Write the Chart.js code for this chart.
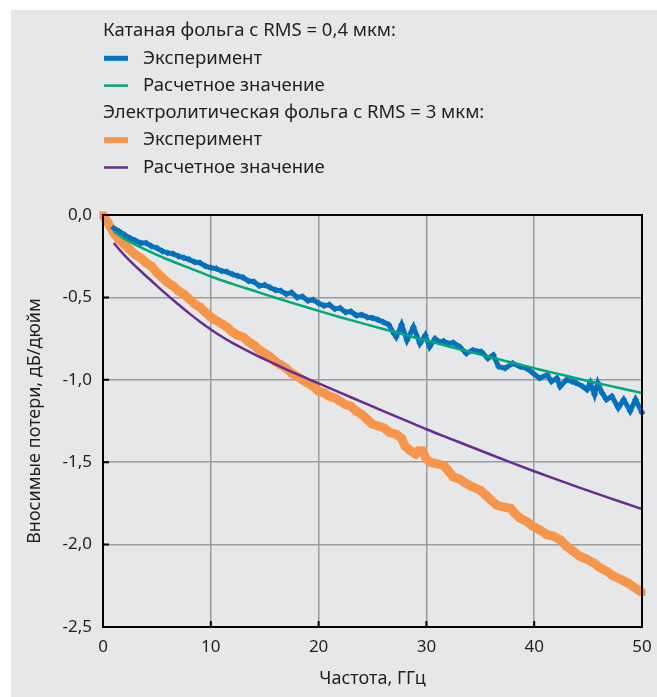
<!DOCTYPE html>
<html>
<head>
<meta charset="utf-8">
<script src="https://cdn.jsdelivr.net/npm/chart.js@4/dist/chart.umd.min.js"></script>
<style>
  html, body { margin: 0; padding: 0; background: #fff; }
  #wrap { width: 657px; height: 697px; }
</style>
</head>
<body>
<div id="wrap"><canvas id="c" width="657" height="697"></canvas></div>
<script>
// legend groups
const groupTitles = ['Катаная фольга с RMS = 0,4 мкм:', 'Электролитическая фольга с RMS = 3 мкм:'];
const seriesLabels = ['Эксперимент', 'Расчетное значение'];

// axis ticks
const xTicks = [0, 10, 20, 30, 40, 50];
const yTicks = [0, -0.5, -1, -1.5, -2, -2.5];

// rolled foil, measured
const rolledExpX = [1, 1.5, 2, 2.5, 3, 3.5, 4, 4.5, 5, 5.5, 6, 6.5, 7, 7.5, 8, 8.5, 9, 9.5, 10, 10.5,
  11, 11.5, 12, 12.5, 13, 13.5, 14, 14.5, 15, 15.5, 16, 16.5, 17, 17.5, 18, 18.5, 19, 19.5, 20, 20.5,
  21, 21.5, 22, 22.5, 23, 23.5, 24, 24.5, 25, 25.5, 26, 26.5, 27, 27.2, 27.7, 28.2, 28.8, 29.4, 29.9, 30.3,
  30.8, 31.2, 31.6, 32, 32.5, 33.1, 33.7, 34.3, 35.1, 35.7, 36.2, 36.7, 37.3, 38, 38.7, 39.3, 39.9, 40.5,
  41.2, 41.6, 42.1, 42.4, 43, 43.5, 43.9, 44.5, 44.9, 45.2, 45.6, 45.9, 46.3, 46.7, 47.2, 47.8, 48.3, 48.9,
  49.4, 50];
const rolledExpY = [-0.08, -0.10, -0.12, -0.14, -0.155, -0.17, -0.17, -0.19, -0.20, -0.22, -0.23, -0.235, -0.25, -0.26, -0.27, -0.285, -0.29, -0.31, -0.32, -0.325,
  -0.34, -0.345, -0.36, -0.37, -0.38, -0.40, -0.405, -0.43, -0.425, -0.44, -0.455, -0.46, -0.48, -0.47, -0.50, -0.495, -0.52, -0.515, -0.535, -0.55,
  -0.545, -0.57, -0.565, -0.59, -0.585, -0.61, -0.605, -0.62, -0.625, -0.635, -0.65, -0.665, -0.72, -0.74, -0.665, -0.76, -0.68, -0.78, -0.73, -0.80,
  -0.75, -0.77, -0.765, -0.78, -0.775, -0.80, -0.84, -0.82, -0.83, -0.87, -0.85, -0.92, -0.93, -0.90, -0.92, -0.93, -0.96, -0.99,
  -0.97, -1.01, -0.99, -1.04, -1.00, -1.01, -1.02, -1.04, -1.06, -1.02, -1.09, -1.02, -1.08, -1.12, -1.10, -1.17, -1.12, -1.19,
  -1.12, -1.20];

// rolled foil, calculated
const rolledCalcX = [1, 2, 3, 4, 5, 6, 7, 8, 10, 12, 14, 16, 18, 20, 22, 24, 26, 28, 30, 32, 34, 36, 38, 40, 42, 44, 46, 48, 50];
const rolledCalcY = [-0.10, -0.145, -0.18, -0.212, -0.242, -0.27, -0.296, -0.321, -0.373, -0.418, -0.46, -0.502, -0.542, -0.582, -0.62, -0.656, -0.692, -0.727, -0.762, -0.796, -0.83, -0.864, -0.897, -0.93, -0.961, -0.992, -1.022, -1.051, -1.08];

// electrolytic foil, measured
const edExpX = [0, 0.5, 1, 1.5, 2, 2.5, 3, 3.5, 4, 4.5, 5, 5.5, 6, 6.5, 7, 7.5, 8, 8.5, 9, 9.5,
  10, 10.5, 11, 11.5, 12, 12.5, 13, 13.5, 14, 14.5, 15, 15.5, 16, 16.5, 17, 17.5, 18, 18.5, 19, 19.5,
  20, 20.5, 21, 21.5, 22, 22.5, 23, 23.5, 24, 24.5, 25, 25.5, 26, 26.6, 27.2, 27.7, 28, 28.5, 29, 29.3,
  29.6, 30, 30.3, 31, 31.6, 32, 32.5, 33, 33.7, 34.3, 35, 35.5, 36, 36.5, 37, 37.8, 38.2, 38.7, 39.3, 39.9,
  40.5, 41.2, 41.8, 42.4, 43, 43.6, 44.2, 44.9, 45.5, 46.1, 46.7, 47.3, 48, 48.6, 49.3, 50];
const edExpY = [0, -0.05, -0.11, -0.15, -0.18, -0.21, -0.24, -0.26, -0.29, -0.31, -0.35, -0.38, -0.41, -0.43, -0.46, -0.48, -0.51, -0.54, -0.56, -0.59,
  -0.62, -0.64, -0.66, -0.68, -0.71, -0.73, -0.74, -0.77, -0.79, -0.82, -0.84, -0.86, -0.89, -0.91, -0.93, -0.96, -0.98, -1.00, -1.02, -1.04,
  -1.07, -1.08, -1.10, -1.11, -1.13, -1.15, -1.16, -1.19, -1.21, -1.24, -1.27, -1.28, -1.29, -1.32, -1.33, -1.355, -1.40, -1.43, -1.45, -1.43,
  -1.43, -1.48, -1.50, -1.51, -1.52, -1.55, -1.59, -1.60, -1.63, -1.65, -1.67, -1.70, -1.73, -1.76, -1.77, -1.78, -1.81, -1.84, -1.86, -1.89,
  -1.91, -1.94, -1.95, -1.97, -2.01, -2.04, -2.07, -2.09, -2.11, -2.14, -2.16, -2.19, -2.21, -2.23, -2.26, -2.29];

// electrolytic foil, calculated
const edCalcX = [1, 2, 3, 4, 5, 6, 7, 8, 9, 10, 11, 12, 14, 16, 18, 20, 22, 24, 26, 28, 30, 32, 34, 36, 38, 40, 42, 44, 46, 48, 50];
const edCalcY = [-0.17, -0.245, -0.31, -0.37, -0.43, -0.488, -0.543, -0.597, -0.648, -0.695, -0.737, -0.776, -0.844, -0.906, -0.966, -1.022, -1.078, -1.134, -1.19, -1.245, -1.30, -1.352, -1.403, -1.455, -1.506, -1.555, -1.603, -1.65, -1.695, -1.74, -1.784];

const pts = (xs, ys) => xs.map((x, i) => ({ x: x, y: ys[i] }));
const fmt = v => v.toFixed(1).replace('.', ',');

const FONT = 'Noto Sans';
const TEXT = '#231f20';

const panelBg = {
  id: 'panelBg',
  beforeDraw(chart) {
    const c = chart.ctx;
    c.save();
    c.fillStyle = '#e6e7e8';
    c.fillRect(11, 10, chart.width - 11, chart.height - 10);
    c.restore();
  }
};

const frame = {
  id: 'frame',
  afterDatasetsDraw(chart) {
    const c = chart.ctx, a = chart.chartArea;
    const xs = chart.scales.x, ys = chart.scales.y;
    c.save();
    c.strokeStyle = '#000';
    c.lineWidth = 2;
    c.strokeRect(a.left, a.top, a.right - a.left, a.bottom - a.top);
    c.beginPath();
    yTicks.forEach(v => {
      const py = ys.getPixelForValue(v);
      c.moveTo(a.left, py); c.lineTo(a.left + 6, py);
    });
    xTicks.forEach(v => {
      const px = xs.getPixelForValue(v);
      c.moveTo(px, a.bottom); c.lineTo(px, a.bottom - 6);
    });
    c.stroke();
    c.restore();
  }
};

const groupLegend = {
  id: 'groupLegend',
  afterDraw(chart) {
    const c = chart.ctx;
    const ds = chart.data.datasets;
    const rows = [
      { head: groupTitles[0] }, { set: ds[0] }, { set: ds[1] },
      { head: groupTitles[1] }, { set: ds[2] }, { set: ds[3] }
    ];
    c.save();
    c.font = '18.5px "' + FONT + '"';
    c.fillStyle = TEXT;
    c.textBaseline = 'middle';
    rows.forEach((r, i) => {
      const y = 31 + i * 27.3;
      if (r.head) {
        c.fillText(r.head, 103, y);
      } else {
        c.strokeStyle = r.set.borderColor;
        c.lineWidth = r.set.legendWidth;
        c.beginPath();
        c.moveTo(104, y); c.lineTo(128, y);
        c.stroke();
        c.fillText(r.set.label, 143, y);
      }
    });
    c.restore();
  }
};

new Chart(document.getElementById('c'), {
  type: 'line',
  data: {
    datasets: [
      {
        label: seriesLabels[0], data: pts(rolledExpX, rolledExpY),
        borderColor: '#0071bc', backgroundColor: '#0071bc',
        borderWidth: 5, pointStyle: 'rectRot', pointRadius: 3.5, pointBorderWidth: 0,
        tension: 0, order: 2, clip: false, legendWidth: 5
      },
      {
        label: seriesLabels[1], data: pts(rolledCalcX, rolledCalcY),
        borderColor: '#00a77a', borderWidth: 2.5, pointRadius: 0,
        cubicInterpolationMode: 'monotone', order: 1, legendWidth: 2.5
      },
      {
        label: seriesLabels[0], data: pts(edExpX, edExpY),
        borderColor: '#f7964a', backgroundColor: '#f7964a',
        borderWidth: 9, pointStyle: 'rect', pointRadius: 5, pointBorderWidth: 0,
        tension: 0, order: 3, clip: false, legendWidth: 6
      },
      {
        label: seriesLabels[1], data: pts(edCalcX, edCalcY),
        borderColor: '#662d91', borderWidth: 2.5, pointRadius: 0,
        cubicInterpolationMode: 'monotone', order: 0, legendWidth: 2.5
      }
    ]
  },
  options: {
    responsive: false,
    animation: false,
    devicePixelRatio: 1,
    layout: { padding: { left: 0, top: 215, right: 15, bottom: 0 } },
    plugins: { legend: { display: false }, tooltip: { enabled: false } },
    scales: {
      x: {
        type: 'linear', min: 0, max: 50,
        afterFit: s => { s.height = 70; s.paddingLeft = 0; s.paddingRight = 0; },
        afterBuildTicks: s => { s.ticks = xTicks.map(v => ({ value: v })); },
        grid: { color: '#9b9b9b', lineWidth: 1.5, drawTicks: false },
        border: { color: '#000', width: 2 },
        ticks: { color: TEXT, padding: 10, font: { family: FONT, size: 17 } },
        title: { display: true, text: 'Частота, ГГц', color: TEXT,
          font: { family: FONT, size: 18 }, padding: { top: 4, bottom: 7 } }
      },
      y: {
        type: 'linear', min: -2.5, max: 0,
        afterFit: s => { s.width = 103; },
        afterBuildTicks: s => { s.ticks = yTicks.map(v => ({ value: v })); },
        grid: { color: '#9b9b9b', lineWidth: 1.5, drawTicks: false },
        border: { color: '#000', width: 2 },
        ticks: { color: TEXT, padding: 11, font: { family: FONT, size: 17 }, callback: v => fmt(v) },
        title: { display: true, text: 'Вносимые потери, дБ/дюйм', color: TEXT,
          font: { family: FONT, size: 18 }, padding: { top: 24, bottom: 4 } }
      }
    }
  },
  plugins: [panelBg, frame, groupLegend]
});
</script>
</body>
</html>
